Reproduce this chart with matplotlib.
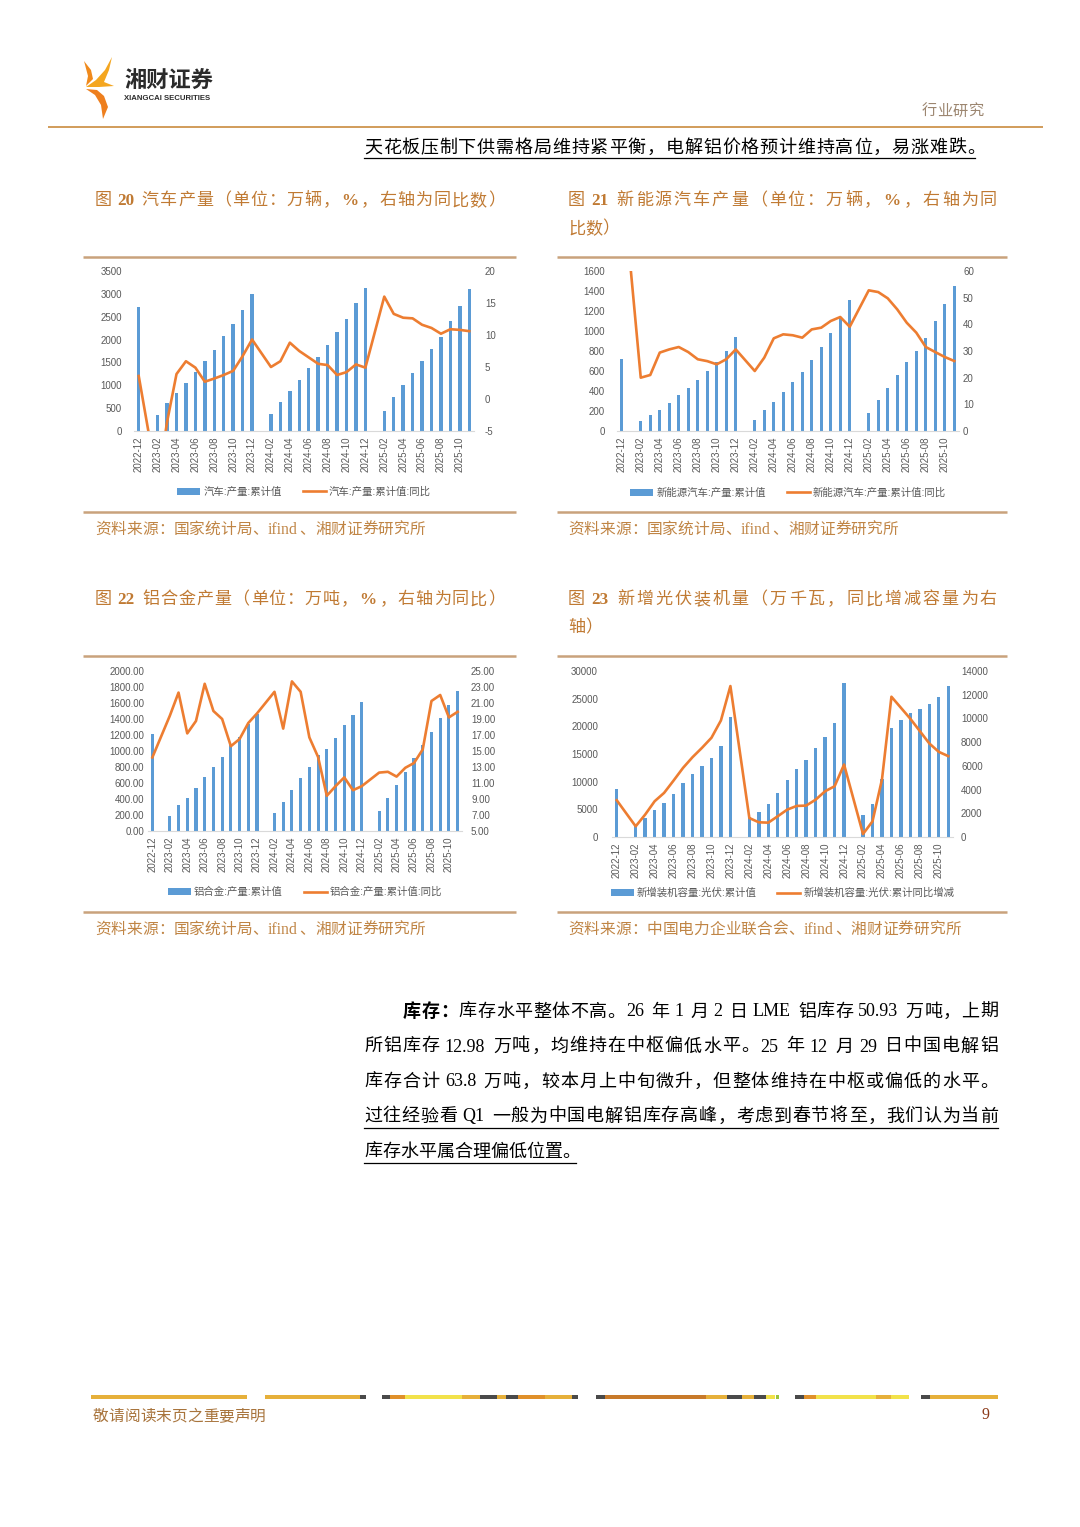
import numpy as np
import matplotlib
matplotlib.use('Agg')
import matplotlib.pyplot as plt
from matplotlib.patches import Polygon, Rectangle

# ---------------- data ----------------
nan = np.nan
months = ['2022-12', '2023-01', '2023-02', '2023-03', '2023-04', '2023-05', '2023-06',
          '2023-07', '2023-08', '2023-09', '2023-10', '2023-11', '2023-12',
          '2024-01', '2024-02', '2024-03', '2024-04', '2024-05', '2024-06',
          '2024-07', '2024-08', '2024-09', '2024-10', '2024-11', '2024-12',
          '2025-01', '2025-02', '2025-03', '2025-04', '2025-05', '2025-06',
          '2025-07', '2025-08', '2025-09', '2025-10', '2025-11']

auto_cum = [2702, nan, 340, 605, 824, 1043, 1291, 1532, 1773, 2071, 2349, 2648, 3005,
            nan, 365, 642, 883, 1116, 1379, 1619, 1875, 2159, 2451, 2801, 3136,
            nan, 430, 744, 999, 1262, 1539, 1802, 2064, 2400, 2728, 3107]
auto_yoy = [3.6, nan, -13.3, -3.6, 3.9, 5.9, 4.9, 2.7, 3.2, 3.75, 4.4, 6.7, 9.3,
            nan, 5.0, 5.9, 8.8, 7.5, 6.5, 5.5, 5.3, 3.75, 4.2, 5.4, 4.9,
            nan, 16.0, 13.3, 12.7, 12.6, 11.6, 11.1, 10.2, 10.9, 10.8, 10.6]

nev_cum = [723, nan, 100, 160, 213, 277, 360, 433, 513, 603, 693, 803, 940,
           nan, 113, 207, 290, 387, 487, 587, 713, 843, 983, 1133, 1313,
           nan, 180, 313, 433, 560, 687, 803, 933, 1097, 1267, 1447]
nev_yoy = [97, nan, 20.0, 21.0, 29.4, 30.6, 31.5, 29.6, 26.9, 26.2, 25.0, 26.9, 30.6,
           nan, 22.5, 27.5, 34.75, 36.25, 35.9, 35.0, 38.1, 38.75, 41.25, 42.75, 39.1,
           nan, 52.75, 52.1, 49.75, 45.6, 40.6, 36.9, 31.5, 29.6, 27.75, 26.25]

alloy_cum = [1208, nan, 183, 321, 417, 533, 679, 804, 929, 1071, 1175, 1342, 1467,
             nan, 225, 367, 513, 658, 804, 946, 1021, 1158, 1325, 1450, 1613,
             nan, 250, 408, 579, 738, 908, 1075, 1238, 1408, 1575, 1750]
alloy_yoy = [14.2, nan, 19.4, 22.3, 17.2, 18.75, 23.4, 20.0, 19.0, 15.6, 16.5, 18.5, 19.7,
             nan, 22.4, 17.8, 23.7, 22.4, 16.7, 14.25, 9.4, 10.6, 11.7, 10.1, 10.6,
             nan, 12.3, 12.4, 11.8, 12.9, 13.5, 15.2, 21.25, 22.0, 19.2, 19.9]

pv_cum = [8741, nan, 2037, 3366, 4831, 6121, 7842, 9712, 11316, 12894, 14256, 16388, 21688,
          nan, 3667, 4574, 6000, 7915, 10248, 12325, 13926, 16088, 18130, 20630, 27757,
          nan, 3947, 5971, 10493, 19785, 21221, 22325, 23061, 24002, 25287, 27280]
pv_yoy = [3100, nan, 900, 1890, 3015, 3720, 4760, 5830, 6730, 7520, 8370, 9830, 12730,
          nan, 1600, 1240, 1210, 1750, 2310, 2620, 2650, 3150, 3860, 4280, 6110,
          nan, 250, 1320, 4845, 11830, 10900, 9970, 8930, 7890, 7180, 6820]

auto_labels = ['汽车:产量:累计值', '汽车:产量:累计值:同比']
nev_labels = ['新能源汽车:产量:累计值', '新能源汽车:产量:累计值:同比']
alloy_labels = ['铝合金:产量:累计值', '铝合金:产量:累计值:同比']
pv_labels = ['新增装机容量:光伏:累计值', '新增装机容量:光伏:累计同比增减']

# ---------------- page ----------------
W, H = 1080, 1527
fig = plt.figure(figsize=(W / 100, H / 100), dpi=100)
pg = fig.add_axes([0, 0, 1, 1])
pg.set_xlim(0, W)
pg.set_ylim(H, 0)
pg.axis('off')

SERIF = ['Liberation Serif', 'Noto Sans CJK SC']
SANS = ['Liberation Sans', 'Noto Sans CJK SC']
BLUE = '#5B9BD5'
ORANGE = '#ED7D31'
TICK = '#595959'
TITLE = '#C07A33'
SRC = '#C08545'
RULE = '#C9A27C'
PX = 100 / 72

renderer = fig.canvas.get_renderer()


def tokens(s):
    out, buf = [], ''
    for ch in s:
        if ch == ' ':
            if buf:
                out.append(buf)
                buf = ''
            out.append(' ')
        elif ord(ch) < 128:
            buf += ch
        else:
            if buf:
                out.append(buf)
                buf = ''
            out.append(ch)
    if buf:
        out.append(buf)
    return out


def put_line(s, x0, yc, size, x1=None, color='black', bold_n=0, family=SERIF, bold_latin=False):
    em = size * PX
    items = tokens(s)
    widths = []
    for t in items:
        if t == ' ':
            widths.append(0.25 * em)
        elif ord(t[0]) >= 128:
            widths.append(em)
        else:
            tt = pg.text(0, 0, t, fontsize=size, family=family,
                         fontweight='bold' if bold_latin else 'normal')
            w = tt.get_window_extent(renderer).width
            tt.remove()
            widths.append(w + 0.12 * em)
    nonsp = [i for i, t in enumerate(items) if t != ' ']
    extra = 0.0
    if x1 is not None and len(nonsp) > 1:
        extra = (x1 - x0 - sum(widths)) / (len(nonsp) - 1)
    x = x0
    yb = yc + 0.36 * em
    k = 0
    for t, w in zip(items, widths):
        if t == ' ':
            x += w
            continue
        bold = k < bold_n or (bold_latin and ord(t[0]) < 128)
        pg.text(x, yb, t, fontsize=size, family=family, color=color, ha='left',
                va='baseline', fontweight='bold' if bold else 'normal')
        x += w + extra
        k += 1


# logo
pg.add_patch(Polygon([(112, 57), (105, 70), (96, 80), (86, 87), (99, 87), (114, 86),
                      (104, 82), (109, 70)], closed=True, color='#F4A620', lw=0))
pg.add_patch(Polygon([(86, 89), (95, 95), (101, 105), (103, 119), (108, 107),
                      (104, 96), (97, 90)], closed=True, color='#EE7F1E', lw=0))
pg.add_patch(Polygon([(84, 61), (91, 70), (93, 79), (86, 86), (88, 76)],
                     closed=True, color='#F08A1C', lw=0))
pg.text(124, 81, '湘财证券', fontsize=16, fontweight='bold', family=['Noto Sans CJK SC'],
        color='#2B2B2B', ha='left', va='center')
pg.text(124, 98.5, 'XIANGCAI SECURITIES', fontsize=5.6, fontweight='bold',
        family=['Liberation Sans'], color='#2B2B2B', ha='left', va='center')
put_line('行业研究', 922, 110, 11, color='#9C8670')
pg.plot([48, 1043], [127, 127], color='#C98B3E', lw=1.2, solid_capstyle='butt')

# header sentence
put_line('天花板压制下供需格局维持紧平衡，电解铝价格预计维持高位，易涨难跌。', 364, 146, 13, x1=985)
pg.plot([364, 975], [157.5, 157.5], color='black', lw=0.9)

# chart titles
put_line('图 20 汽车产量（单位：万辆，%，右轴为同比数）', 95, 199, 12.3, x1=505, color=TITLE, bold_latin=True)
put_line('图 21 新能源汽车产量（单位：万辆，%，右轴为同', 568, 199, 12.3, x1=997, color=TITLE, bold_latin=True)
put_line('比数）', 568, 227, 12.3, color=TITLE)
put_line('图 22 铝合金产量（单位：万吨，%，右轴为同比）', 95, 598, 12.3, x1=505, color=TITLE, bold_latin=True)
put_line('图 23 新增光伏装机量（万千瓦，同比增减容量为右', 568, 598, 12.3, x1=997, color=TITLE, bold_latin=True)
put_line('轴）', 568, 626, 12.3, color=TITLE)

# rules around charts
for (xa, xb, ya, yb) in [(83, 516, 257, 512), (557, 1007, 257, 512),
                         (83, 516, 656, 912), (557, 1007, 656, 912)]:
    pg.plot([xa, xb], [ya, ya], color=RULE, lw=1.8, solid_capstyle='butt')
    pg.plot([xa, xb], [yb, yb], color=RULE, lw=1.8, solid_capstyle='butt')

# sources
put_line('资料来源：国家统计局、ifind、湘财证券研究所', 95, 528, 11.3, color=SRC)
put_line('资料来源：国家统计局、ifind、湘财证券研究所', 568, 528, 11.3, color=SRC)
put_line('资料来源：国家统计局、ifind、湘财证券研究所', 95, 928, 11.3, color=SRC)
put_line('资料来源：中国电力企业联合会、ifind、湘财证券研究所', 568, 928, 11.3, color=SRC)

# paragraph
put_line('库存：库存水平整体不高。26 年 1 月 2 日 LME 铝库存 50.93 万吨，上期', 403, 1010, 13, x1=998, bold_n=3)
put_line('所铝库存 12.98 万吨，均维持在中枢偏低水平。25 年 12 月 29 日中国电解铝', 364, 1045, 13, x1=998)
put_line('库存合计 63.8 万吨，较本月上中旬微升，但整体维持在中枢或偏低的水平。', 364, 1080, 13, x1=998)
put_line('过往经验看 Q1 一般为中国电解铝库存高峰，考虑到春节将至，我们认为当前', 364, 1115, 13, x1=998)
put_line('库存水平属合理偏低位置。', 364, 1150, 13)
pg.plot([364, 998], [1127.5, 1127.5], color='black', lw=0.9)
pg.plot([364, 576], [1162.5, 1162.5], color='black', lw=0.9)

# footer stripes
GOLD, DARK, ORG, YEL, BRN, GRN = '#E6B03A', '#4A4A4A', '#E0902A', '#F2E24A', '#C87A2A', '#9BC43A'
segs = [(91, 247, GOLD), (265, 360, GOLD), (360, 366, DARK),
        (382, 390, DARK), (390, 405, ORG), (405, 462, YEL), (462, 480, GOLD), (480, 497, DARK),
        (497, 506, GOLD), (506, 518, DARK), (518, 545, ORG), (545, 572, GOLD), (572, 578, DARK),
        (596, 605, DARK), (605, 706, BRN), (706, 727, GOLD), (727, 742, DARK), (742, 754, GOLD),
        (754, 766, DARK), (766, 775, YEL), (776, 779, GRN),
        (795, 804, DARK), (804, 816, ORG), (816, 876, YEL), (876, 891, GOLD), (891, 909, YEL),
        (921, 930, DARK), (930, 998, GOLD)]
for a, b, c in segs:
    pg.add_patch(Rectangle((a, 1395), b - a, 4, color=c, lw=0))
put_line('敬请阅读末页之重要声明', 93, 1415, 11.3, color='#A8743C')
pg.text(985, 1415, '9', fontsize=11.5, family=['Liberation Serif'], color='#8B3A1A',
        ha='center', va='center')


# ---------------- charts ----------------
def chart(rect, bars, line, lyl, lyt, lfmt, ryl, ryt, rfmt, labels, leg_y, padl, padr):
    x0, y0, x1, y1 = rect
    ax = fig.add_axes([x0 / W, 1 - y1 / H, (x1 - x0) / W, (y1 - y0) / H])
    ax.patch.set_visible(False)
    xs = np.arange(len(months))
    b = np.array(bars, float)
    l = np.array(line, float)
    hb = ax.bar(xs, np.nan_to_num(b), width=0.36, color=BLUE, zorder=2)
    ax.set_xlim(-0.5, len(months) - 0.5)
    ax.set_ylim(*lyl)
    ax.set_yticks(lyt)
    ax.set_yticklabels([lfmt.format(v) for v in lyt])
    ax.set_xticks(xs[::2])
    ax.set_xticklabels(months[::2], rotation=90)
    for s in ('top', 'left', 'right'):
        ax.spines[s].set_visible(False)
    ax.spines['bottom'].set_color('#D9D9D9')
    ax.spines['bottom'].set_linewidth(0.8)
    ax.tick_params(axis='both', length=0, labelsize=7, labelcolor=TICK)
    ax.tick_params(axis='y', pad=padl * 0.72)
    ax.tick_params(axis='x', pad=4)
    for t in ax.get_xticklabels() + ax.get_yticklabels():
        t.set_family(SANS)
    ax2 = ax.twinx()
    m = ~np.isnan(l)
    ln, = ax2.plot(xs[m], l[m], color=ORANGE, lw=1.9, solid_joinstyle='round')
    ax2.set_ylim(*ryl)
    ax2.set_yticks(ryt)
    ax2.set_yticklabels([rfmt.format(v) for v in ryt])
    for s in ax2.spines.values():
        s.set_visible(False)
    ax2.tick_params(axis='y', length=0, labelsize=7, labelcolor=TICK, pad=padr * 0.72)
    for t in ax2.get_yticklabels():
        t.set_family(SANS)
    ax2.set_xlim(-0.5, len(months) - 0.5)
    leg = ax.legend([hb, ln], labels, loc='center',
                    bbox_to_anchor=(0.5, -(leg_y - y1) / (y1 - y0)), ncol=2, frameon=False,
                    prop={'family': SANS, 'size': 7.5}, labelcolor=TICK, handlelength=2.2,
                    handletextpad=0.3, columnspacing=2.0, borderaxespad=0)
    return ax, ax2


chart((134, 271, 474, 431), auto_cum, auto_yoy, (0, 3500), list(range(0, 3501, 500)), '{:d}',
      (-5, 20), list(range(-5, 21, 5)), '{:d}', auto_labels, 492, 12, 11)
chart((617, 271, 959, 431), nev_cum, nev_yoy, (0, 1600), list(range(0, 1601, 200)), '{:d}',
      (0, 60), list(range(0, 61, 10)), '{:d}', nev_labels, 493, 12, 4)
chart((148, 671, 462, 831), alloy_cum, alloy_yoy, (0, 2000), list(range(0, 2001, 200)), '{:.2f}',
      (5, 25), list(range(5, 26, 2)), '{:.2f}', alloy_labels, 892, 4, 9)
chart((612, 671, 953, 837), pv_cum, pv_yoy, (0, 30000), list(range(0, 30001, 5000)), '{:d}',
      (0, 14000), list(range(0, 14001, 2000)), '{:d}', pv_labels, 893, 14, 8)

fig.savefig('out.png', dpi=100)
